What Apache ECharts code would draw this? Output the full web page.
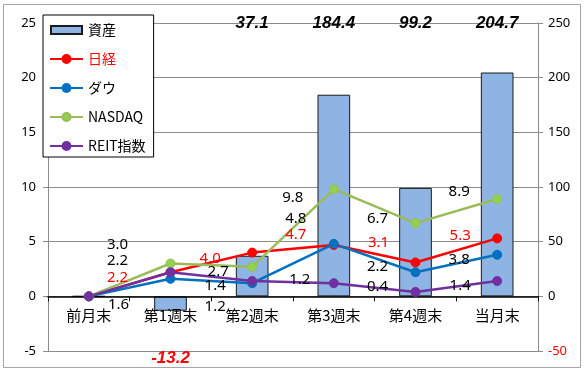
<!DOCTYPE html>
<html><head><meta charset="utf-8">
<script src="https://cdn.jsdelivr.net/npm/echarts@6/dist/echarts.min.js"></script>
<style>html,body{margin:0;padding:0;background:#fff}#c{width:586px;height:375px}</style>
</head><body><div id="c"></div>
<script>
// ---- data ----
const categories = ['前月末', '第1週末', '第2週末', '第3週末', '第4週末', '当月末'];
const assets = [0, -13.2, 37.1, 184.4, 99.2, 204.7];
const nikkei = [0, 2.2, 4.0, 4.7, 3.1, 5.3];
const dow = [0, 1.6, 1.2, 4.8, 2.2, 3.8];
const nasdaq = [0, 3.0, 2.7, 9.8, 6.7, 8.9];
const reit = [0, 2.2, 1.4, 1.2, 0.4, 1.4];
const leftTicks = [-5, 0, 5, 10, 15, 20, 25];
const rightTicks = [-50, 0, 50, 100, 150, 200, 250];

// ---- layout (label nudges, px, relative to point centre) ----
const nudgeNikkei = [[0,0],[-53,5],[-42,6],[-38,-10],[-37,-20],[-37,-3]];
const nudgeDow    = [[0,0],[-52,26],[-37,24],[-38,-25],[-38,-6],[-38,5]];
const nudgeNasdaq = [[0,0],[-53,-19],[-34,5],[-41,9],[-38,-4],[-38,-7]];
const nudgeReit   = [[0,0],[-53,-12],[-37,5],[-34,-3],[-38,-5],[-37,5]];

const W = 586, H = 375, GT = 23, GB = 24, GL = 48, GR = 48;
const FONT = '"Noto Sans CJK JP","Noto Sans",sans-serif';
const lMin = leftTicks[0], lMax = leftTicks[leftTicks.length - 1];
const plotH = H - GT - GB;
// distance from plot bottom up to the zero line of the left axis
const zeroOffset = plotH * (0 - lMin) / (lMax - lMin);

const chart = echarts.init(document.getElementById('c'), null, {renderer: 'canvas'});

function lineSeries(name, vals, color, fill, labelColor, nudges) {
  return {
    name: name, type: 'line', yAxisIndex: 0, z: 5,
    data: vals,
    symbol: 'circle', symbolSize: 9,
    lineStyle: {color: color, width: 2.5},
    itemStyle: {color: fill, borderColor: color, borderWidth: 1},
    label: {
      show: true, position: 'inside',
      color: labelColor, fontSize: 15, fontFamily: '"Noto Sans",sans-serif',
      align: 'center', verticalAlign: 'middle',
      formatter: p => p.value === 0 ? '' : p.value.toFixed(1)
    },
    labelLayout: p => ({dx: nudges[p.dataIndex][0], dy: nudges[p.dataIndex][1]}),
    emphasis: {disabled: true}
  };
}

const option = {
  animation: false,
  backgroundColor: '#fff',
  graphic: [{
    type: 'rect', shape: {x: 3.5, y: 4.5, width: 577, height: 363},
    style: {fill: 'none', stroke: '#A6A6A6', lineWidth: 1}, z: -1
  }],
  grid: {left: GL, right: GR, top: GT, bottom: GB},
  legend: {
    orient: 'vertical', left: 43, top: 15,
    padding: [8, 8, 4, 6], itemWidth: 33, itemHeight: 10, itemGap: 15,
    backgroundColor: '#fff', borderColor: '#000', borderWidth: 1,
    textStyle: {fontSize: 14, lineHeight: 14, color: '#000', fontFamily: FONT},
    data: [
      {name: '資産', icon: 'path://M0,0M33,10M1,1h31v8h-31z'},
      {name: '日経', textStyle: {color: '#FF0000'}},
      {name: 'ダウ'},
      {name: 'NASDAQ'},
      {name: 'REIT指数'}
    ]
  },
  xAxis: {
    type: 'category', data: categories, position: 'bottom',
    offset: -zeroOffset,
    axisLine: {onZero: false, lineStyle: {color: '#000', width: 1.5}},
    axisTick: {show: true, length: 5, lineStyle: {color: '#000'}},
    axisLabel: {color: '#000', fontSize: 15, margin: 11, fontFamily: FONT},
    splitLine: {show: false},
    z: 3
  },
  yAxis: [{
    type: 'value', min: lMin, max: lMax, interval: 5,
    axisLine: {show: true, lineStyle: {color: '#8C8C8C'}},
    axisTick: {show: true, length: 5, lineStyle: {color: '#8C8C8C'}},
    axisLabel: {color: '#000', fontSize: 13, margin: 12, fontFamily: '"Noto Sans",sans-serif'},
    splitLine: {show: true, lineStyle: {color: '#8C8C8C', width: 1}}
  }, {
    type: 'value', min: rightTicks[0], max: rightTicks[rightTicks.length - 1], interval: 50,
    axisLine: {show: true, lineStyle: {color: '#8C8C8C'}},
    axisTick: {show: true, length: 5, lineStyle: {color: '#8C8C8C'}},
    axisLabel: {
      fontSize: 13, margin: 10, fontFamily: '"Noto Sans",sans-serif',
      color: v => (v < 0 ? '#FF0000' : '#000')
    },
    splitLine: {show: false}
  }],
  series: [{
    name: '資産', type: 'bar', yAxisIndex: 1, z: 2,
    data: assets.map(v => ({value: v, label: {color: v < 0 ? '#FF0000' : '#000'}})),
    barWidth: '40%',
    itemStyle: {color: '#8DB4E2', borderColor: '#1A1A1A', borderWidth: 1},
    label: {
      show: true, position: 'inside',
      fontSize: 17, fontWeight: 'bold', fontStyle: 'italic',
      fontFamily: '"Liberation Sans",sans-serif',
      formatter: p => p.value === 0 ? '' : p.value.toFixed(1)
    },
    labelLayout: p => ({
      x: p.rect.x + p.rect.width / 2,
      y: assets[p.dataIndex] < 0 ? (H - GB + 7) : GT,
      align: 'center', verticalAlign: 'middle'
    }),
    emphasis: {disabled: true}
  },
  lineSeries('日経', nikkei, '#FF0000', '#FF0000', '#FF0000', nudgeNikkei),
  lineSeries('ダウ', dow, '#0070C0', '#0070C0', '#000', nudgeDow),
  lineSeries('NASDAQ', nasdaq, '#9BBB59', '#92D050', '#000', nudgeNasdaq),
  lineSeries('REIT指数', reit, '#7030A0', '#7030A0', '#000', nudgeReit)
  ]
};
chart.setOption(option);
</script></body></html>
